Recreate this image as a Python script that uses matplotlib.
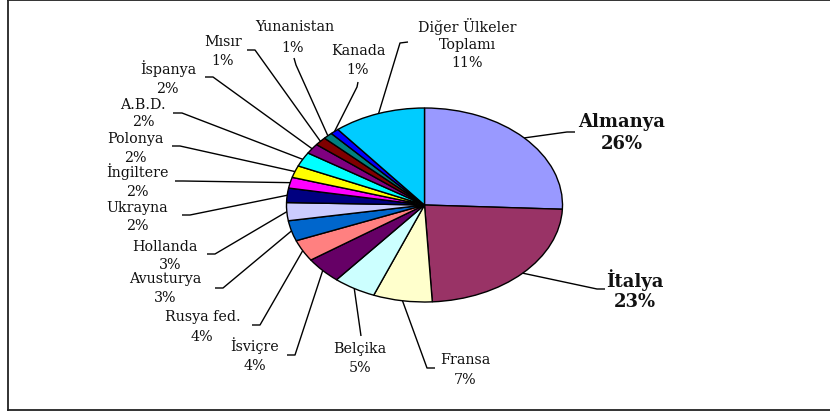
import numpy as np
import matplotlib
matplotlib.use("Agg")
import matplotlib.pyplot as plt
from matplotlib.lines import Line2D

# ---- data ----
countries = ["Almanya", "İtalya", "Fransa", "Belçika", "İsviçre", "Rusya fed.",
             "Avusturya", "Hollanda", "Ukrayna", "İngiltere", "Polonya", "A.B.D.",
             "İspanya", "Mısır", "Yunanistan", "Kanada", "Diğer Ülkeler\nToplamı"]
shares = [25.7, 23.4, 6.9, 5.0, 4.4, 3.6, 3.4, 3.0, 2.4, 1.8, 2.0, 2.4,
          1.7, 1.4, 1.1, 1.0, 10.8]
colors = ["#9999FF", "#993366", "#FFFFCC", "#CCFFFF", "#660066", "#FF8080",
          "#0066CC", "#CCCCFF", "#000080", "#FF00FF", "#FFFF00", "#00FFFF",
          "#800080", "#800000", "#008080", "#0000FF", "#00CCFF"]
bold = [True, True] + [False] * 15

# ---- layout (pixels, origin top-left) ----
W, H = 830, 414
CX, CY, RX, RY = 424.5, 206.0, 138.0, 97.0
# (name center x, name center y, pct center x, pct center y, elbow, end)
label_layout = [
    (622, 122, 622, 144, (567, 133), (575, 133)),
    (635, 280, 635, 302, (597, 290), (605, 290)),
    (465, 360, 465, 380, (427, 369), (435, 369)),
    (360, 349, 360, 368, (361, 337), (361, 337)),
    (255, 346, 255, 366, (295, 356), (287, 356)),
    (203, 317, 202, 337, (260, 326), (252, 326)),
    (165, 279, 165, 298, (223, 289), (215, 289)),
    (165, 247, 170, 265, (215, 255), (207, 255)),
    (137, 208, 137, 226, (190, 216), (182, 216)),
    (137, 172, 137, 192, (183, 182), (175, 182)),
    (135, 139, 135, 158, (180, 147), (172, 147)),
    (143, 105, 143, 122, (182, 114), (173, 114)),
    (168, 69, 167, 89, (213, 78), (205, 78)),
    (223, 42, 223, 61, (255, 51), (247, 51)),
    (295, 27, 293, 48, (296, 66), (294, 59)),
    (358, 51, 358, 70, (357, 88), (358, 83)),
    (467, 35, 467, 63, (400, 44), (408, 43)),
]

fig = plt.figure(figsize=(W / 100, H / 100), dpi=100)
ax = fig.add_axes([0, 0, 1, 1])


def P(px, py):
    return (px - CX) / RX, (CY - py) / RY


wedges, _ = ax.pie(shares, colors=colors, startangle=90, counterclock=False,
                   radius=1.0, center=(0, 0),
                   wedgeprops=dict(edgecolor="black", linewidth=1.0))
ax.set_aspect("auto")
ax.set_xlim(-CX / RX, (W - CX) / RX)
ax.set_ylim(-(H - CY) / RY, CY / RY)
ax.axis("off")

total = sum(shares)
for i, w in enumerate(wedges):
    mid = np.deg2rad((w.theta1 + w.theta2) / 2)
    ex, ey = np.cos(mid), np.sin(mid)
    nx, ny, px_, py_, elbow, end = label_layout[i]
    bx, by = P(*elbow)
    dx, dy = P(*end)
    ax.plot([ex, bx, dx], [ey, by, dy], color="black", lw=1.0,
            solid_capstyle="butt", zorder=1)
    pct = f"{round(shares[i] / total * 100)}%"
    if bold[i]:
        kw = dict(fontsize=13, fontweight="bold")
    else:
        kw = dict(fontsize=10.3)
    ax.text(*P(nx, ny), countries[i], ha="center", va="center",
            family="DejaVu Serif", color="#111111", linespacing=1.25, **kw)
    ax.text(*P(px_, py_), pct, ha="center", va="center",
            family="DejaVu Serif", color="#111111", **kw)

# frame
def fl(x0, y0, x1, y1):
    fig.add_artist(Line2D([x0 / W, x1 / W], [1 - y0 / H, 1 - y1 / H],
                          transform=fig.transFigure, color="#222222", lw=1.3))

fl(8, 0.7, 8, 411)
fl(8, 0.7, 830, 0.7)
fl(8, 411, 830, 411)

fig.savefig("out.png", dpi=100, facecolor="white")
